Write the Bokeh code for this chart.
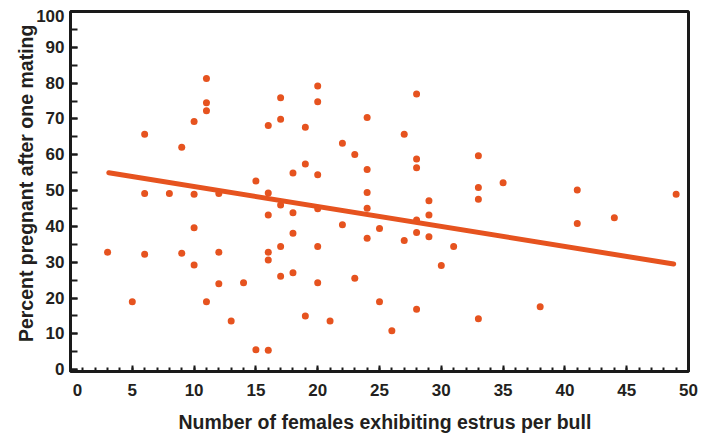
from bokeh.plotting import figure
from bokeh.models import SingleIntervalTicker, Range1d
from bokeh.embed import file_html
from bokeh.resources import INLINE

# Data
females_per_bull = [
    3, 5, 6, 6, 6, 8, 9, 9, 10, 10, 10, 10,
    11, 11, 11, 11, 12, 12, 12, 13, 14, 15, 15,
    16, 16, 16, 16, 16, 16, 17, 17, 17, 17, 17,
    18, 18, 18, 18, 19, 19, 19, 20, 20, 20, 20, 20, 20,
    21, 22, 22, 23, 23, 24, 24, 24, 24, 24, 25, 25, 26,
    27, 27, 28, 28, 28, 28, 28, 28, 29, 29, 29, 30, 31,
    33, 33, 33, 33, 35, 38, 41, 41, 44, 49,
]
percent_pregnant = [
    32.8, 19.0, 65.7, 49.2, 32.2, 49.2, 62.1, 32.5, 69.3, 49.0, 39.6, 29.2,
    81.3, 74.5, 72.3, 19.0, 49.2, 32.8, 24.0, 13.6, 24.3, 52.7, 5.6,
    68.2, 49.3, 43.2, 32.8, 30.6, 5.4, 75.9, 69.9, 46.0, 34.4, 26.1,
    54.9, 43.8, 38.1, 27.1, 67.7, 57.4, 15.0, 79.2, 74.8, 54.4, 44.9, 34.4, 24.3,
    13.6, 63.2, 40.5, 60.1, 25.5, 70.4, 55.9, 49.5, 45.1, 36.7, 39.4, 19.0, 10.9,
    65.7, 36.1, 77.0, 58.8, 56.4, 41.8, 38.3, 16.9, 47.2, 43.2, 37.1, 29.1, 34.4,
    59.7, 50.9, 47.6, 14.2, 52.2, 17.6, 50.2, 40.8, 42.4, 49.0,
]
# Regression line end points
fit_x = [3.1, 48.8]
fit_y = [55.0, 29.5]

x_title = "Number of females exhibiting estrus per bull"
y_title = "Percent pregnant after one mating"

FONT = "Liberation Sans"
TEXT = "#231F20"
ORANGE = "#E6531F"
NB = "\u00a0"

p = figure(width=714, height=435, output_backend="svg", toolbar_location=None,
           x_range=Range1d(0, 50), y_range=Range1d(-0.5, 100),
           min_border_left=70, min_border_right=26, min_border_top=11,
           min_border_bottom=57)

p.background_fill_color = "white"
p.border_fill_color = "white"
p.outline_line_color = "#1a1a1a"
p.outline_line_width = 3
p.xgrid.visible = False
p.ygrid.visible = False

p.scatter(females_per_bull, percent_pregnant, size=7, color=ORANGE, line_color=None)
p.line(fit_x, fit_y, line_width=5, color=ORANGE, line_cap="round")

p.xaxis.ticker = SingleIntervalTicker(interval=5, num_minor_ticks=5)
p.yaxis.ticker = SingleIntervalTicker(interval=10, num_minor_ticks=2)
# corner labels are nudged away from the corner, as in the reference
p.xaxis.major_label_overrides = {0: NB * 3 + "0"}
p.yaxis.major_label_overrides = {100: "\n100"}

for ax in (p.xaxis, p.yaxis):
    ax.axis_line_color = None
    ax.major_tick_out = 0
    ax.minor_tick_out = 0
    ax.major_tick_line_color = "#1a1a1a"
    ax.minor_tick_line_color = "#1a1a1a"
    ax.major_tick_line_width = 2
    ax.minor_tick_line_width = 2
    ax.major_label_text_font = FONT
    ax.major_label_text_font_size = "17px"
    ax.major_label_text_font_style = "bold"
    ax.major_label_text_color = TEXT
    ax.axis_label_text_font = FONT
    ax.axis_label_text_font_size = "19.5px"
    ax.axis_label_text_font_style = "bold"
    ax.axis_label_text_color = TEXT

p.yaxis.major_label_text_line_height = 0.35

p.xaxis.major_tick_in = 6
p.xaxis.minor_tick_in = 4
p.yaxis.major_tick_in = 7
p.yaxis.minor_tick_in = 7
p.xaxis.major_label_standoff = 9
p.yaxis.major_label_standoff = 6
p.xaxis.axis_label_standoff = 8
p.yaxis.axis_label_standoff = -4

p.xaxis.axis_label = NB * 2 + x_title
p.yaxis.axis_label = NB * 3 + y_title

open("out.html", "w").write(file_html(p, INLINE))
